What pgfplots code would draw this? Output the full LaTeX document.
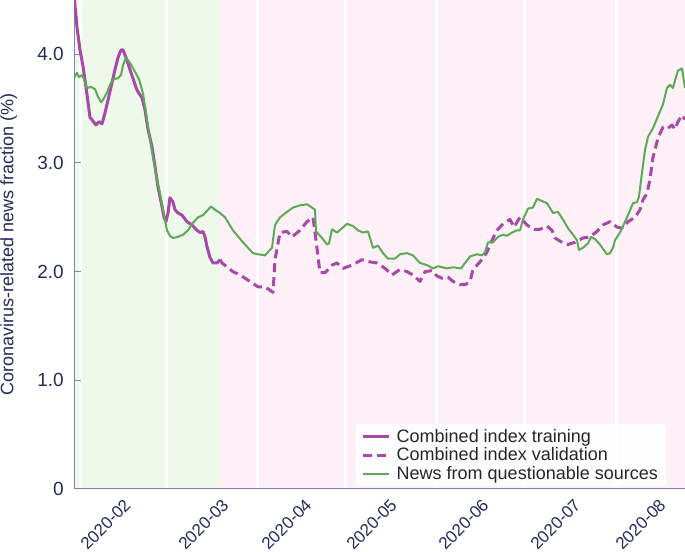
\documentclass[border=0pt]{standalone}
\usepackage{fontspec}
\setmainfont{Liberation Sans}
\usepackage{graphicx}
\usepackage{pgfplots}
\pgfplotsset{compat=1.18}
\definecolor{cpurple}{RGB}{166,73,168}
\definecolor{cgreen}{RGB}{92,170,84}
\definecolor{bggreen}{RGB}{238,248,235}
\definecolor{bgpink}{RGB}{253,241,247}
\definecolor{axcol}{RGB}{130,130,170}
\definecolor{txtcol}{RGB}{40,40,90}
\begin{document}
\begin{tikzpicture}
\begin{axis}[
  set layers=standard,
  width=611pt, height=489pt, scale only axis,
  xmin=28.62, xmax=236.45, ymin=0, ymax=4.5,
  axis x line*=bottom, axis y line*=left,
  axis line style={axcol, line width=1pt},
  xtick={48.35,81.68,109.91,138.83,170.12,201.41,230.32},
  xticklabels={\rotatebox{45}{2020-02},\rotatebox{45}{2020-03},\rotatebox{45}{2020-04},\rotatebox{45}{2020-05},\rotatebox{45}{2020-06},\rotatebox{45}{2020-07},\rotatebox{45}{2020-08}},
  xtick style={draw=none},
  x tick label style={anchor=north east, inner sep=0pt, yshift=-9pt, font=\fontsize{17}{20}\selectfont, text=txtcol},
  ytick={0,1,2,3,4}, yticklabels={0,1.0,2.0,3.0,4.0},
  ytick style={axcol, line width=1pt}, major tick length=7pt, tick align=inside,
  y tick label style={font=\fontsize{19}{22}\selectfont, text=txtcol, inner sep=0pt, xshift=-10pt},
  ylabel={Coronavirus-related news fraction (\%)},
  ylabel style={at={(axis description cs:-0.1211,0.5)}, anchor=north, inner sep=0pt, font=\fontsize{18}{20}\selectfont, text=txtcol},
  legend style={at={(0.969,0.006)}, anchor=south east, draw=none, fill=white, fill opacity=0.9, text opacity=1, rounded corners=3pt, font=\fontsize{18}{19}\selectfont, text=black!85, inner xsep=6pt, inner ysep=3pt, row sep=0pt, cells={anchor=west}, /tikz/every odd column/.append style={column sep=4pt}},
  legend image code/.code={\draw[#1] (0pt,0pt) -- (26pt,0pt);},
  unbounded coords=jump,
]
\addplot[draw=none, fill=bggreen, on layer=axis background, forget plot] coordinates {(28.62,4.5) (78.28,4.5)} \closedcycle;
\addplot[draw=none, fill=bgpink, on layer=axis background, forget plot] coordinates {(78.28,4.5) (236.45,4.5)} \closedcycle;
\addplot[white, line width=3pt, on layer=axis grid, forget plot] coordinates {
(31,0) (31,4.5) (nan,nan)
(60,0) (60,4.5) (nan,nan)
(91,0) (91,4.5) (nan,nan)
(121,0) (121,4.5) (nan,nan)
(152,0) (152,4.5) (nan,nan)
(182,0) (182,4.5) (nan,nan)
(213,0) (213,4.5)};

\addplot[cpurple, line width=3pt, line join=round] table {
28.62 4.55
29.64 4.25
30.66 4.04
31.68 3.89
32.70 3.70
34.06 3.42
36.10 3.35
37.12 3.38
38.14 3.36
39.16 3.46
40.19 3.58
41.55 3.74
42.57 3.86
43.59 3.97
44.61 4.04
45.29 4.04
46.31 3.97
47.67 3.86
49.03 3.75
50.05 3.67
51.75 3.60
52.77 3.49
53.79 3.31
55.15 3.15
56.17 2.97
57.19 2.78
58.55 2.60
59.23 2.50
59.91 2.46
60.59 2.54
61.27 2.68
62.29 2.64
62.97 2.57
63.99 2.54
65.36 2.52
67.06 2.46
68.76 2.43
70.46 2.38
71.48 2.36
72.50 2.37
73.18 2.32
73.86 2.23
74.88 2.13
75.90 2.08
77.26 2.08
78.28 2.11
};
\addlegendentry{Combined index training}

\addplot[cpurple, line width=3pt, dash pattern=on 9pt off 5pt, line join=round] table {
78.28 2.11
78.96 2.08
82.70 2.00
85.08 1.97
88.49 1.91
91.21 1.86
93.59 1.86
96.31 1.81
96.99 2.11
98.69 2.36
101.07 2.37
102.77 2.32
105.49 2.38
107.87 2.46
109.91 2.50
110.93 2.29
112.29 1.99
114.00 1.99
116.38 2.06
118.08 2.08
120.12 2.03
123.18 2.06
126.58 2.11
129.30 2.09
131.68 2.08
134.40 2.03
136.78 1.97
139.51 2.02
141.89 2.00
143.93 1.97
146.31 1.91
148.01 2.00
150.39 2.01
152.09 1.96
153.79 1.94
155.83 1.95
157.53 1.91
159.91 1.88
161.62 1.88
163.32 1.91
164.34 2.02
166.72 2.09
169.10 2.18
170.80 2.29
172.50 2.38
174.54 2.44
176.92 2.48
178.28 2.41
180.32 2.50
182.70 2.43
184.74 2.39
187.13 2.39
189.51 2.42
191.21 2.38
192.23 2.31
194.61 2.27
196.65 2.25
199.03 2.27
201.75 2.31
204.13 2.32
206.51 2.37
208.55 2.43
210.94 2.46
213.32 2.41
215.02 2.40
217.06 2.46
219.44 2.50
221.14 2.57
222.16 2.66
223.52 2.72
224.54 2.85
225.56 3.05
227.26 3.23
228.96 3.33
230.66 3.32
232.02 3.35
233.04 3.31
234.06 3.38
235.43 3.44
236.45 3.40
};
\addlegendentry{Combined index validation}

\addplot[cgreen, line width=2pt, line join=round] table {
28.62 3.78
29.64 3.83
30.32 3.79
31.34 3.81
32.02 3.77
33.04 3.69
34.40 3.70
35.76 3.68
36.78 3.61
37.80 3.56
38.48 3.58
39.85 3.65
40.87 3.72
41.89 3.77
43.59 3.78
44.61 3.81
45.29 3.90
46.31 3.97
47.67 3.92
49.37 3.84
50.73 3.77
52.09 3.64
53.11 3.46
54.47 3.21
55.83 3.00
56.85 2.85
57.87 2.72
58.89 2.57
60.25 2.38
61.27 2.33
62.29 2.31
63.99 2.32
65.70 2.34
67.40 2.38
69.10 2.45
70.80 2.50
72.50 2.52
73.86 2.56
75.22 2.60
76.58 2.57
78.28 2.54
79.98 2.50
82.70 2.38
86.10 2.27
89.51 2.17
91.21 2.16
93.59 2.15
95.97 2.22
96.99 2.43
98.69 2.50
101.07 2.55
103.11 2.59
105.49 2.61
107.87 2.62
109.57 2.59
110.59 2.57
110.93 2.37
112.97 2.31
114.68 2.25
115.36 2.26
116.38 2.39
118.08 2.36
119.78 2.40
121.48 2.44
123.52 2.42
125.22 2.38
126.92 2.36
128.62 2.37
130.32 2.22
132.02 2.24
133.72 2.17
135.42 2.12
137.81 2.12
139.51 2.16
141.89 2.17
143.93 2.15
146.31 2.08
148.69 2.06
150.73 2.03
152.43 2.05
155.49 2.03
157.53 2.04
160.25 2.03
163.32 2.14
165.70 2.16
167.40 2.15
168.42 2.18
169.44 2.27
171.14 2.27
172.84 2.32
174.54 2.34
175.90 2.33
177.60 2.36
179.30 2.38
180.32 2.38
181.34 2.48
183.04 2.58
184.74 2.59
186.10 2.67
187.81 2.65
189.51 2.63
191.55 2.54
193.25 2.55
194.95 2.48
196.65 2.40
198.35 2.34
199.71 2.29
200.39 2.20
201.75 2.22
203.45 2.26
204.47 2.32
205.83 2.30
207.53 2.25
208.55 2.21
209.91 2.16
210.94 2.17
211.96 2.22
212.64 2.29
214.34 2.36
216.72 2.50
218.76 2.63
220.12 2.64
220.80 2.69
221.82 2.91
222.84 3.12
223.86 3.24
225.56 3.32
227.26 3.43
228.96 3.54
230.32 3.69
231.34 3.72
232.36 3.69
233.38 3.79
234.06 3.85
235.43 3.87
236.45 3.69
};
\addlegendentry{News from questionable sources}
\end{axis}
\pgfresetboundingbox
\path[use as bounding box] ([xshift=-74pt,yshift=-63pt]current axis.south west) rectangle (current axis.north east);
\end{tikzpicture}
\end{document}
